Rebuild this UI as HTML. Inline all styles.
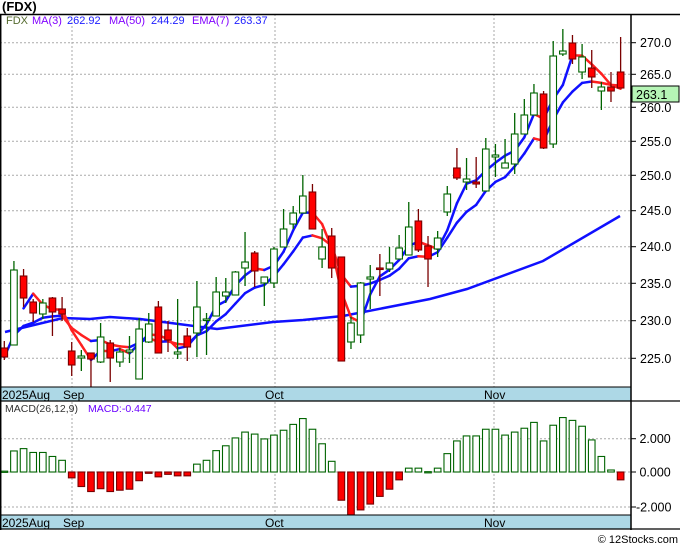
<!DOCTYPE html>
<html><head><meta charset="utf-8"><style>
body{margin:0;background:#fff;}
svg{display:block;font-family:"Liberation Sans",sans-serif;}
</style></head><body>
<svg id="c" width="680" height="546" xmlns="http://www.w3.org/2000/svg"></svg>
<script>
const S=document.getElementById('c');let h='';
// grids
const grid=[[270,42.7],[265,74.3],[260,107.3],[255,141.3],[250,175.3],[245,210.7],[240,246.7],[235,283.3],[230,320.7],[225,358.3]];
grid.forEach(g=>{h+=`<line x1="0" x2="631" y1="${g[1]}" y2="${g[1]}" stroke="#aaa" stroke-dasharray="2,2"/>`;
h+=`<line x1="631" x2="636" y1="${g[1]}" y2="${g[1]}" stroke="#000"/>`;
h+=`<text x="640" y="${g[1]+4.5}" font-size="12.5" fill="#000">${g[0]}.0</text>`;});
[72,275,494].forEach(x=>{h+=`<line x1="${x}" x2="${x}" y1="14" y2="515" stroke="#aaa" stroke-dasharray="2,2"/>`;});
[438.7,472,507].forEach(y=>{h+=`<line x1="0" x2="631" y1="${y}" y2="${y}" stroke="#aaa" stroke-dasharray="2,2"/>`;});
// candles: [color, bodyTop, bodyBot, wickTop, wickBot]
const C=[['r',348,357,341,360],['g',270,345,261,345],['r',276,298,269,307],['r',302,313,299,322],['g',303,314,299,319],['r',298,312,297,336],['r',309,314,297,321],['r',351,365,342,376],['g',356,358,350,371],['r',353,359,353,387],
['g',337,362,323,363],['r',343,358,340,382],['g',352,362,348,367],['g',350,352,336,363],['g',329,379,318,379],['g',324,342,313,343],['r',307,353,301,353],['r',330,340,321,352],['g',352,354,299,359],['r',336,347,328,361],
['g',307,333,281,357],['g',319,320,313,355],['g',292,316,277,316],['g',292,296,278,303],['g',272,295,271,295],['g',262,268,232,286],['r',253,271,251,287],['g',277,283,277,306],['g',249,283,247,288],['g',229,247,209,247],
['g',213,224,206,229],['g',196,213,175,213],['r',192,229,184,229],['g',247,259,229,268],['r',236,268,228,278],['r',257,361,257,361],['g',323,342,317,349],['g',283,335,282,343],['g',277,279,265,309],['r',268,269,254,296],
['g',263,269,247,272],['g',248,259,235,259],['g',227,255,202,255],['r',221,250,209,252],['r',246,259,236,287],['g',238,249,231,257],['g',194,212,186,216],['r',168,178,148,180],['g',179,182,158,190],['r',182,184,157,188],
['g',149,191,138,191],['g',155,157,144,177],['g',163,168,139,168],['g',134,164,113,174],['g',115,134,99,134],['g',93,115,84,115],['r',94,148,91,149],['g',56,144,41,148],['g',51,54,29,56],['r',43,59,35,64],
['g',57,72,44,79],['r',68,77,50,88],['g',87,91,82,110],['r',87,91,72,102],['r',72,88,37,88]];
const X=i=>4.3+i*9.63;
const close=C.map(c=>c[0]=='g'?c[1]:c[2]);
// MA50
h+=`<polyline fill="none" stroke="#1010ff" stroke-width="2.5" points="5,332 63,318 90,319 110,317 140,319 217,329 273,322 303,320 343,316 430,299 467,289 543,261 620,216"/>`;
function line(pts){for(let k=1;k<pts.length;k++){const a=pts[k-1],b=pts[k];const col=b[1]>a[1]+0.3?'#ff2020':'#1010ff';h+=`<line x1="${a[0]}" y1="${a[1]}" x2="${b[0]}" y2="${b[1]}" stroke="${col}" stroke-width="2.5" stroke-linecap="round"/>`;}}
let ma=[];for(let i=2;i<C.length;i++)ma.push([X(i),(close[i]+close[i-1]+close[i-2])/3]);
let e=close[0],em=[];const a=2/8;for(let i=0;i<C.length;i++){e=i==0?close[0]:a*close[i]+(1-a)*e;em.push([X(i),e]);}
line(em);line(ma);
C.forEach((c,i)=>{const x=X(i);const g=c[0]=='g';const col=g?'#006400':'#7a0000';
h+=`<line x1="${x}" x2="${x}" y1="${c[3]}" y2="${c[4]}" stroke="${col}" stroke-width="1.3"/>`;
const bh=Math.max(c[2]-c[1],1.5);
h+=`<rect x="${x-3.3}" y="${c[1]}" width="6.6" height="${bh}" fill="${g?'#fff':'#ff0000'}" stroke="${col}" stroke-width="1.1"/>`;});
// MACD
const M=[0.05,1.26,1.4,1.17,1.17,0.93,0.7,-0.35,-0.87,-1.17,-1.0,-1.17,-1.09,-1.03,-0.52,-0.08,-0.29,-0.14,-0.23,-0.23,0.47,0.7,1.28,1.57,2.04,2.39,2.27,1.98,2.21,2.5,2.85,3.2,2.56,1.69,0.64,-1.69,-2.6,-2.27,-1.92,-1.46,-1.03,-0.47,0.23,0.23,0.02,0.23,1.1,1.86,2.16,2.16,2.56,2.56,2.21,2.39,2.62,2.97,1.86,2.8,3.26,3.09,2.74,1.92,0.93,0.12,-0.47];
M.forEach((v,i)=>{const x=X(i);let y0=472,y1=472-v*16.7;if(y1>515)y1=515;const t=Math.min(y0,y1),bh=Math.max(Math.abs(y1-y0),1.2);
h+=`<rect x="${x-3.3}" y="${t}" width="6.6" height="${bh}" fill="${v>0?'#fff':'#ff0000'}" stroke="${v>0?'#006400':'#7a0000'}" stroke-width="1.1"/>`;});
[[438.7,' 2.000'],[472,' 0.000'],[507,'-2.000']].forEach(l=>{h+=`<line x1="631" x2="636" y1="${l[0]}" y2="${l[0]}" stroke="#000"/><text x="636" y="${l[0]+4.5}" font-size="12.5" xml:space="preserve">${l[1]}</text>`;});
// bands
[387,515].forEach(y=>{h+=`<rect x="0" y="${y}" width="631" height="14" fill="#add8e6"/><line x1="0" x2="631" y1="${y}" y2="${y}" stroke="#000"/><line x1="0" x2="680" y1="${y+14}" y2="${y+14}" stroke="#000" stroke-width="1.3"/>`;
h+=`<text font-size="12" y="${y+12}"><tspan x="2">2025Aug</tspan><tspan x="63">Sep</tspan><tspan x="265">Oct</tspan><tspan x="484">Nov</tspan></text>`;});
h+=`<line x1="0" x2="680" y1="14.5" y2="14.5" stroke="#000" stroke-width="1.5"/>`;
h+=`<line x1="0.7" x2="0.7" y1="14" y2="530" stroke="#000" stroke-width="1.5"/>`;
h+=`<line x1="631" x2="631" y1="14" y2="530" stroke="#000" stroke-width="1.5"/>`;
h+=`<text x="2" y="11" font-size="13" font-weight="bold">(FDX)</text>`;
h+=`<text y="24" font-size="11"><tspan x="6" fill="#556b2f">FDX</tspan><tspan x="32" fill="#8000ff">MA(3)</tspan><tspan x="67" fill="#2020ff">262.92</tspan><tspan x="109" fill="#8000ff">MA(50)</tspan><tspan x="151" fill="#2020ff">244.29</tspan><tspan x="192" fill="#8000ff">EMA(7)</tspan><tspan x="234" fill="#2020ff">263.37</tspan></text>`;
h+=`<text y="412" font-size="10.5"><tspan x="5" fill="#333">MACD(26,12,9)</tspan><tspan x="88" fill="#6a00ff">MACD:-0.447</tspan></text>`;
h+=`<rect x="632" y="86" width="47" height="16" fill="#b6f5b6" stroke="#000"/><text x="636" y="99" font-size="12.5">263.1</text>`;
h+=`<text x="678" y="543" font-size="11" text-anchor="end">© 12Stocks.com</text>`;
S.innerHTML=h;
</script>
</body></html>
